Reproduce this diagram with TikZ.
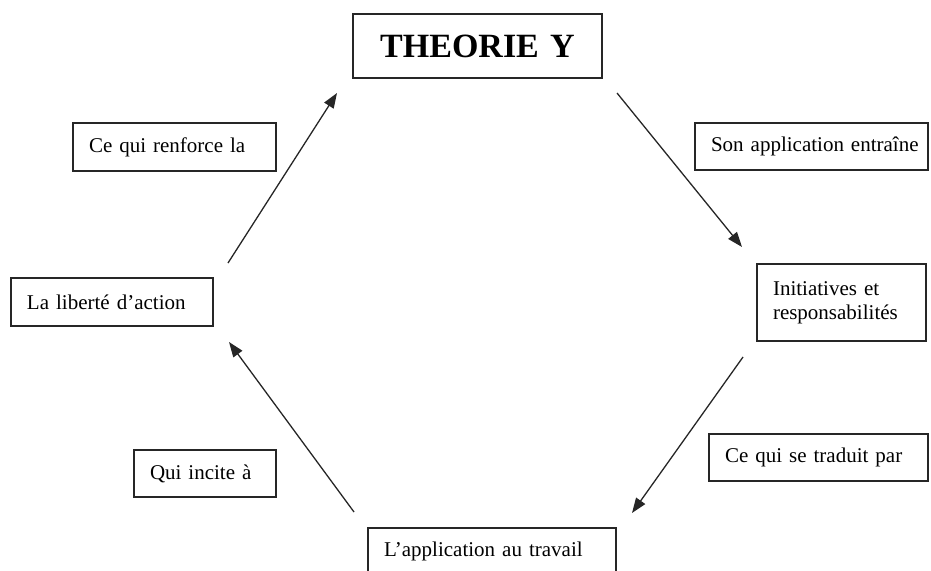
\documentclass[tikz,border=0pt]{standalone}
\usepackage{fontspec}
\setmainfont{Liberation Serif}
\usetikzlibrary{arrows.meta}
\tikzset{
  box/.style={draw=black!85, line width=1.2pt, fill=white, inner xsep=16pt, inner ysep=0pt,
    align=left, font=\fontsize{21}{24}\selectfont},
  conn/.style={draw=black!85, line width=1.3pt, -{Triangle[length=15pt,width=11pt]}}
}
\newcommand{\bx}[7]{% name, x, y, w, h, options, text
  \pgfmathsetmacro{\cxx}{#2+#4/2}\pgfmathsetmacro{\cyy}{#3+#5/2}\pgfmathsetmacro{\tw}{#4-32}%
  \node[box, minimum width=#4pt, minimum height=#5pt, text width=\tw pt, #6] (#1) at (\cxx,\cyy) {#7};}
\begin{document}
\begin{tikzpicture}[x=1pt,y=-1pt]
\useasboundingbox (0,0) rectangle (931,570);
\clip (0,0) rectangle (931,570);
\bx{theo}{353}{14}{249}{64}{align=center, font=\fontsize{34}{38}\selectfont\bfseries}{\mbox{THEORIE Y}}
\bx{renf}{73}{123}{203}{48}{}{\mbox{Ce qui renforce la}}
\bx{sonapp}{695}{123}{233}{47}{}{\mbox{Son application entraîne}}
\bx{init}{757}{264}{169}{77}{}{Initiatives et\\responsabilités}
\bx{trad}{709}{434}{219}{47}{}{\mbox{Ce qui se traduit par}}
\bx{travail}{368}{528}{248}{47}{}{\mbox{L’application au travail}}
\bx{incite}{134}{450}{142}{47}{}{\mbox{Qui incite à}}
\bx{lib}{11}{278}{202}{48}{}{\mbox{La liberté d’action}}
\coordinate (a1s) at (228,263); \coordinate (a1e) at (337,93);
\coordinate (a2s) at (617,93);  \coordinate (a2e) at (742,247);
\coordinate (a3s) at (743,357); \coordinate (a3e) at (632,513);
\coordinate (a4s) at (354,512); \coordinate (a4e) at (229,342);
\draw[conn] (a1s) -- (a1e);
\draw[conn] (a2s) -- (a2e);
\draw[conn] (a3s) -- (a3e);
\draw[conn] (a4s) -- (a4e);
\end{tikzpicture}
\end{document}
